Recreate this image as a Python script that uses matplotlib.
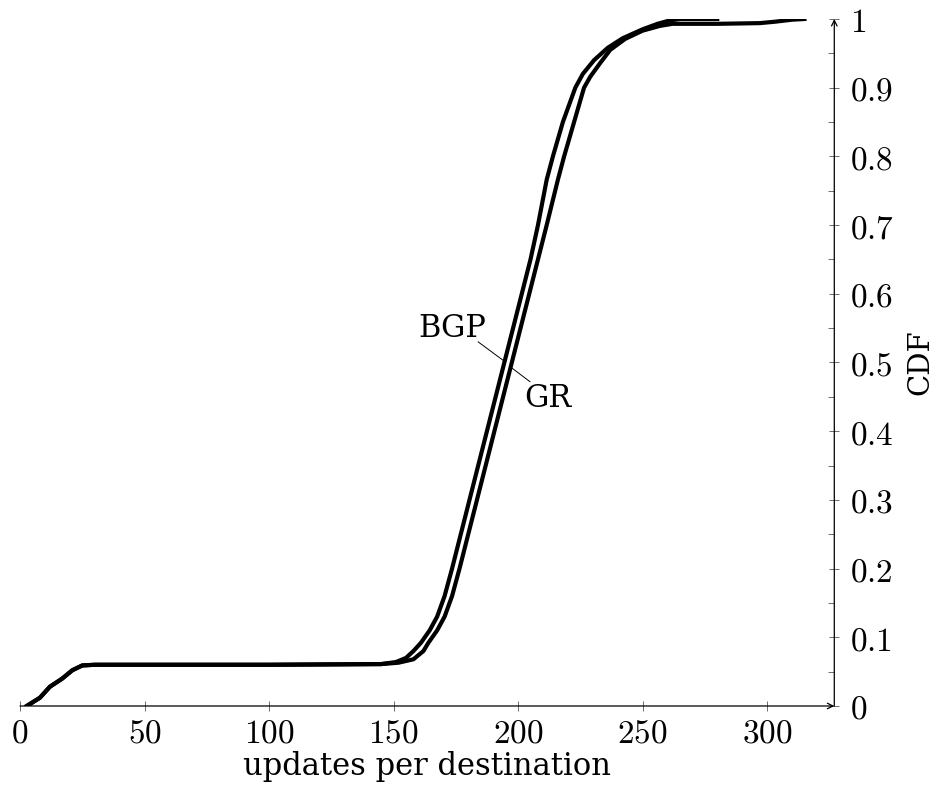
import matplotlib.pyplot as plt
from matplotlib.ticker import MultipleLocator, FuncFormatter

# CDF of updates per destination
bgp_x = [2.7, 8, 12, 17, 21, 25, 30, 100, 145, 151, 155, 158, 161, 164.5, 167.5, 170.5,
         173.5, 177, 180.5, 184, 187.5, 191, 194.5, 198, 201.5, 205, 208, 211.5, 214,
         218, 223, 226, 230.5, 236, 242, 250, 256, 261, 265, 280]
bgp_y = [0, 0.012, 0.028, 0.04, 0.052, 0.059, 0.06, 0.06, 0.061, 0.064, 0.07, 0.08,
         0.092, 0.11, 0.13, 0.16, 0.2, 0.25, 0.3, 0.35, 0.4, 0.45, 0.5, 0.55, 0.6,
         0.65, 0.7, 0.766, 0.8, 0.85, 0.9, 0.92, 0.94, 0.958, 0.972, 0.985, 0.993,
         0.998, 1.0, 1.0]

gr_x = [2.7, 8, 12, 17, 21, 25, 30, 100, 145, 152, 158, 162, 164, 167.5, 170.5, 173.5,
        176.5, 180, 183.5, 187, 190.5, 194, 197.5, 201, 204.5, 208, 211.5, 216, 218.5,
        222.5, 226.5, 229, 233, 237, 243, 250, 257, 262, 280, 297, 303, 310, 315]
gr_y = [0, 0.012, 0.028, 0.04, 0.052, 0.059, 0.06, 0.06, 0.061, 0.063, 0.068, 0.08,
        0.092, 0.11, 0.13, 0.16, 0.2, 0.25, 0.3, 0.35, 0.4, 0.45, 0.5, 0.55, 0.6,
        0.65, 0.7, 0.766, 0.8, 0.85, 0.9, 0.916, 0.936, 0.955, 0.971, 0.983, 0.99,
        0.993, 0.993, 0.994, 0.996, 0.999, 1.0]

plt.rcParams['mathtext.fontset'] = 'cm'
label_font = 'DejaVu Serif'

fig = plt.figure(figsize=(9.39, 7.92), dpi=100)
ax = fig.add_axes([0.0213, 0.1086, 0.8672, 0.8674])

ax.plot(bgp_x, bgp_y, color='black', lw=3, solid_joinstyle='round')
ax.plot(gr_x, gr_y, color='black', lw=3, solid_joinstyle='round')

# curve labels with pins
ax.plot([184.0, 194.8], [0.530, 0.501], color='black', lw=0.7)
ax.plot([196.8, 204.8], [0.494, 0.472], color='black', lw=0.7)
ax.text(173.4, 0.550, 'BGP', ha='center', va='center', fontsize=22, family=label_font)
ax.text(212, 0.448, 'GR', ha='center', va='center', fontsize=22, family=label_font)

ax.set_xlim(0, 327)
ax.set_ylim(0, 1)

for s in ['left', 'top', 'right', 'bottom']:
    ax.spines[s].set_visible(False)

# axis lines with arrow heads
ax.annotate('', xy=(1, 0), xytext=(0, 0), xycoords='axes fraction',
            arrowprops=dict(arrowstyle='->', color='black', lw=0.9, shrinkA=0, shrinkB=0))
ax.annotate('', xy=(1, 1), xytext=(1, 0), xycoords='axes fraction',
            arrowprops=dict(arrowstyle='->', color='black', lw=0.9, shrinkA=0, shrinkB=0))

ax.yaxis.tick_right()
ax.yaxis.set_label_position('right')
ax.xaxis.set_major_locator(MultipleLocator(50))
ax.yaxis.set_major_locator(MultipleLocator(0.1))
ax.yaxis.set_minor_locator(MultipleLocator(0.05))

ax.xaxis.set_major_formatter(FuncFormatter(lambda v, p: r'$%d$' % round(v)))
ax.yaxis.set_major_formatter(FuncFormatter(lambda v, p: r'$%g$' % round(v, 2)))

ax.tick_params(axis='x', which='major', direction='inout', length=7, width=0.6,
               color='#555555', labelsize=24, pad=4)
ax.tick_params(axis='y', which='major', direction='inout', length=7, width=0.6,
               color='#555555', labelsize=24, pad=8)
ax.tick_params(axis='y', which='minor', direction='in', length=4, width=0.6,
               color='#555555')

ax.set_xlabel('updates per destination', fontsize=22, family=label_font, labelpad=1)
ax.set_ylabel('CDF', fontsize=21, family=label_font, labelpad=9)

fig.savefig('out.png', dpi=100)
